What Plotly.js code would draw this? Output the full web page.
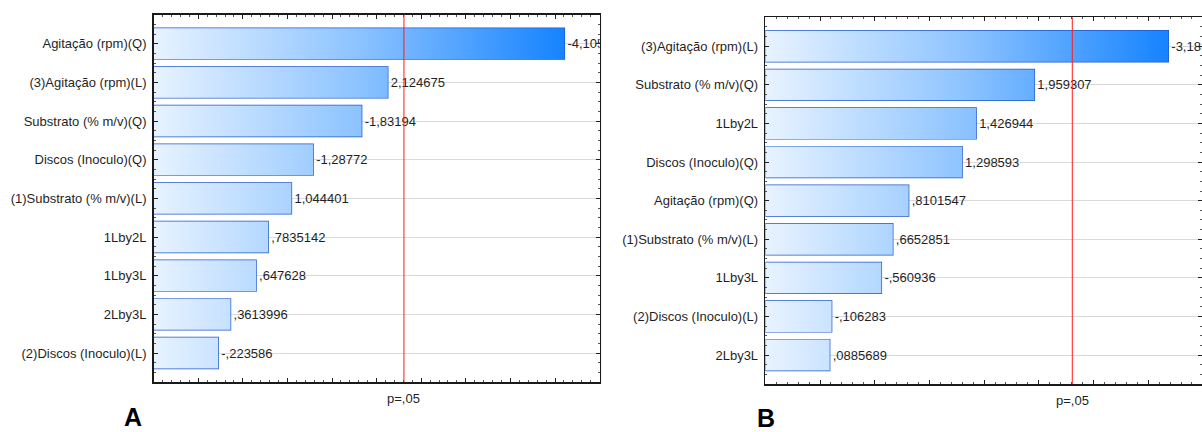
<!DOCTYPE html>
<html>
<head>
<meta charset="utf-8">
<script src="https://cdn.plot.ly/plotly-3.0.1.min.js"></script>
<style>
  html, body { margin: 0; padding: 0; background: #ffffff; }
  #chart { width: 1202px; height: 432px; }
</style>
</head>
<body>
<div id="chart"></div>
<script>
// ---------- Data ----------
// Panel A (top to bottom)
const termsA = [
  "Agitação (rpm)(Q)",
  "(3)Agitação (rpm)(L)",
  "Substrato (% m/v)(Q)",
  "Discos (Inoculo)(Q)",
  "(1)Substrato (% m/v)(L)",
  "1Lby2L",
  "1Lby3L",
  "2Lby3L",
  "(2)Discos (Inoculo)(L)"
];
const effectsA = [-4.10532, 2.124675, -1.83194, -1.28772, 1.044401, 0.7835142, 0.647628, 0.3613996, -0.223586];

// Panel B (top to bottom)
const termsB = [
  "(3)Agitação (rpm)(L)",
  "Substrato (% m/v)(Q)",
  "1Lby2L",
  "Discos (Inoculo)(Q)",
  "Agitação (rpm)(Q)",
  "(1)Substrato (% m/v)(L)",
  "1Lby3L",
  "(2)Discos (Inoculo)(L)",
  "2Lby3L"
];
const effectsB = [-3.18341, 1.959307, 1.426944, 1.298593, 0.8101547, 0.6652851, -0.560936, -0.106283, 0.0885689];

// critical t value (p = .05) and its label
const tCrit = 2.306;
const pLabel = "p=,05";
const panelLetters = ["A", "B"];

// ---------- helpers ----------
function fmt(v) {
  let s = Math.abs(v).toPrecision(7);
  if (s.indexOf('.') >= 0) s = s.replace(/0+$/, '').replace(/\.$/, '');
  if (s.startsWith('0.')) s = s.slice(1);
  s = s.replace('.', ',');
  return (v < 0 ? '-' : '') + s;
}

const AXMIN = -0.5;       // bars start at the left edge of the axis
const HALF = 0.4;         // half bar thickness (bargap 0.2)
const FONT = "Liberation Sans, Arial, sans-serif";
const gradScale = [[0, '#e8f3ff'], [0.5, '#8cc3ff'], [1, '#1683ff']];

function gradientTrace(vals, xa, ya) {
  const xs = [], ys = [];
  vals.forEach((v, i) => {
    const e = Math.abs(v);
    xs.push(AXMIN, e, e, AXMIN, AXMIN, null);
    ys.push(i - HALF, i - HALF, i + HALF, i + HALF, i - HALF, null);
  });
  const maxE = Math.max(...vals.map(Math.abs));
  return {
    type: 'scatter', mode: 'lines', x: xs, y: ys, xaxis: xa, yaxis: ya,
    fill: 'toself', line: { width: 0, color: 'rgba(0,0,0,0)' },
    fillgradient: { type: 'horizontal', colorscale: gradScale, start: AXMIN, stop: maxE },
    hoverinfo: 'skip', showlegend: false
  };
}

function barTrace(vals, xa, ya) {
  return {
    type: 'bar', orientation: 'h',
    y: vals.map((v, i) => i),
    x: vals.map(v => Math.abs(v) - AXMIN),
    base: AXMIN,
    xaxis: xa, yaxis: ya,
    width: 2 * HALF,
    marker: { color: 'rgba(0,0,0,0)', line: { color: '#1f57cf', width: 1.4 } },
    text: vals.map(fmt),
    textposition: 'outside',
    constraintext: 'none',
    cliponaxis: true,
    textfont: { family: FONT, size: 13, color: '#1f1f1f' },
    hoverinfo: 'skip', showlegend: false
  };
}

const traces = [
  gradientTrace(effectsA, 'x', 'y'),
  barTrace(effectsA, 'x', 'y'),
  gradientTrace(effectsB, 'x2', 'y2'),
  barTrace(effectsB, 'x2', 'y2')
];

function xAxis(domain, range) {
  return {
    domain: domain, range: range, showticklabels: false,
    ticks: 'inside', ticklen: 4, tickwidth: 1, tickcolor: '#222', dtick: 0.5, tick0: 0,
    minor: { ticks: 'inside', ticklen: 2, dtick: 0.1, tickcolor: '#555', showgrid: false },
    mirror: 'allticks', showline: true, linecolor: '#1a1a1a', linewidth: 1.6,
    showgrid: false, zeroline: false, fixedrange: true
  };
}
function yAxis(domain, terms, anchor) {
  return {
    domain: domain, range: [8.75, -0.75], anchor: anchor,
    tickmode: 'array', tickvals: terms.map((t, i) => i), ticktext: terms,
    ticks: 'inside', ticklen: 4, tickwidth: 1, tickcolor: '#222',
    minor: { ticks: 'inside', ticklen: 2, dtick: 0.25, tickcolor: '#555', showgrid: false },
    mirror: 'allticks', showline: true, linecolor: '#1a1a1a', linewidth: 1.6,
    showgrid: true, gridcolor: '#dadada', gridwidth: 1, zeroline: false,
    tickfont: { family: FONT, size: 13, color: '#1f1f1f' },
    ticklabelstandoff: 3, fixedrange: true
  };
}

const W = 1202, H = 432;
const layout = {
  width: W, height: H,
  margin: { l: 0, r: 0, t: 0, b: 0 },
  paper_bgcolor: '#ffffff', plot_bgcolor: '#ffffff',
  showlegend: false,
  bargap: 0.2,
  xaxis: Object.assign(xAxis([153.7 / W, 599.6 / W], [AXMIN, 4.5]), { anchor: 'y' }),
  yaxis: yAxis([1 - 382 / H, 1 - 14.7 / H], termsA, 'x'),
  xaxis2: Object.assign(xAxis([765.3 / W, 1201.5 / W], [AXMIN, 3.487]), { anchor: 'y2' }),
  yaxis2: yAxis([1 - 384 / H, 1 - 17.3 / H], termsB, 'x2'),
  shapes: [
    { type: 'line', xref: 'x', yref: 'y domain', x0: tCrit, x1: tCrit, y0: 0, y1: 1,
      line: { color: '#ff1a1a', width: 1 }, layer: 'above' },
    { type: 'line', xref: 'x2', yref: 'y2 domain', x0: tCrit, x1: tCrit, y0: 0, y1: 1,
      line: { color: '#ff1a1a', width: 1 }, layer: 'above' },
    { type: 'line', xref: 'paper', yref: 'paper', x0: 601 / W, x1: 601 / W, y0: 1 - 383 / H, y1: 1 - 14 / H,
      line: { color: '#ececec', width: 1 }, layer: 'below' }
  ],
  annotations: [
    { xref: 'x', yref: 'paper', x: tCrit, y: 1 - 398 / H, text: pLabel, showarrow: false,
      xanchor: 'center', yanchor: 'middle', font: { family: FONT, size: 13, color: '#1f1f1f' } },
    { xref: 'x2', yref: 'paper', x: tCrit, y: 1 - 400 / H, text: pLabel, showarrow: false,
      xanchor: 'center', yanchor: 'middle', font: { family: FONT, size: 13, color: '#1f1f1f' } },
    { xref: 'paper', yref: 'paper', x: 133 / W, y: 1 - 417 / H, text: '<b>' + panelLetters[0] + '</b>', showarrow: false,
      xanchor: 'center', yanchor: 'middle', font: { family: FONT, size: 25, color: '#000' } },
    { xref: 'paper', yref: 'paper', x: 766 / W, y: 1 - 418 / H, text: '<b>' + panelLetters[1] + '</b>', showarrow: false,
      xanchor: 'center', yanchor: 'middle', font: { family: FONT, size: 25, color: '#000' } }
  ]
};

Plotly.newPlot('chart', traces, layout, { displayModeBar: false, staticPlot: true });
</script>
</body>
</html>
